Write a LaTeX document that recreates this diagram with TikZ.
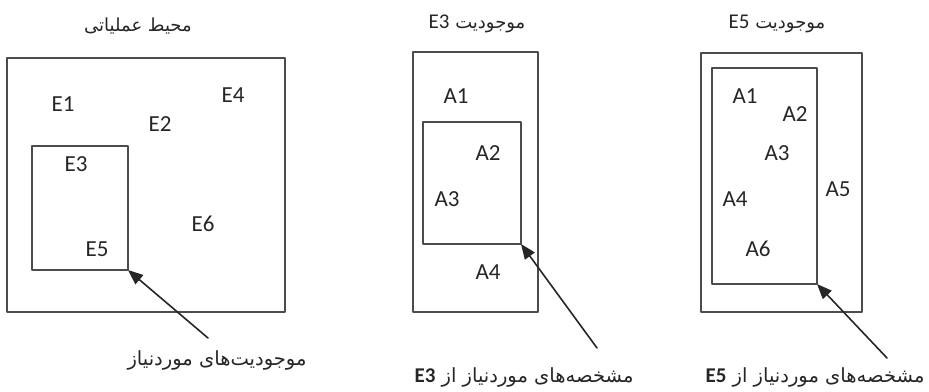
\documentclass[tikz,border=0pt]{standalone}
\usepackage{fontspec}
\setmainfont{Carlito}
\newfontfamily\arabicfont[Script=Arabic]{DejaVu Sans}
\TeXXeTstate=1
\usetikzlibrary{arrows.meta}

% Latin name inside a Persian line
\newcommand{\latinname}[1]{\beginL{\normalfont\fontsize{21}{24}\selectfont #1}\endL}

\tikzset{
  frame/.style={draw=black!70,line width=1.7pt,inner sep=0pt,outer sep=0pt},
  inframe/.style={draw=black!70,line width=1.4pt,inner sep=0pt,outer sep=0pt},
  item/.style={text=black!85,font=\fontsize{23}{26}\selectfont},
  fatext/.style={text=black!85,font=\arabicfont\fontsize{18}{21}\selectfont},
  falabel/.style={text=black!85,font=\arabicfont\fontsize{19.5}{23}\selectfont},
  pointer/.style={draw=black!85,line width=1.6pt,-{Triangle[length=15pt,width=12pt]}}
}

\begin{document}
\begin{tikzpicture}[line cap=round,line join=round,x=1pt,y=-1pt]
                \useasboundingbox (0,0) rectangle (929,391);
                % operating environment
                \node[fatext] (title1) at (138,26) {\beginR محیط عملیاتی\endR};
                \node[frame,minimum width=278pt,minimum height=254pt] (env) at (146,185) {};
                \node[inframe,minimum width=96pt,minimum height=124pt] (need1) at (80,208) {};
                \node[item] (e1) at (63,104) {E1};
                \node[item] (e2) at (160,124) {E2};
                \node[item] (e3) at (76,164) {E3};
                \node[item] (e4) at (233,95) {E4};
                \node[item] (e5) at (97,249) {E5};
                \node[item] (e6) at (203,224) {E6};
                \node[falabel] (lab1) at (217,360) {\beginR موجودیت‌های موردنیاز\endR};
                \coordinate (t1) at (208,338);
                \draw[pointer] (t1) -- (need1.south east);
                % entity E3
                \node[fatext] (title2) at (477,24) {\beginR موجودیت \latinname{E3}\endR};
                \node[frame,minimum width=125pt,minimum height=260pt] (ent3) at (475.5,182) {};
                \node[inframe,minimum width=98pt,minimum height=122pt] (need3) at (472,183) {};
                \node[item] (a31) at (456,96) {A1};
                \node[item] (a32) at (488,153) {A2};
                \node[item] (a33) at (447,199) {A3};
                \node[item] (a34) at (488,272) {A4};
                \node[falabel] (lab2) at (524,377) {\beginR مشخصه‌های موردنیاز از \latinname{\bfseries E3}\endR};
                \coordinate (t2) at (597,348);
                \draw[pointer] (t2) -- (need3.south east);
                % entity E5
                \node[fatext] (title3) at (777,24) {\beginR موجودیت \latinname{E5}\endR};
                \node[frame,minimum width=161pt,minimum height=259pt] (ent5) at (781.5,182.5) {};
                \node[inframe,minimum width=105pt,minimum height=216pt] (need5) at (764.5,176) {};
                \node[item] (a51) at (745,96) {A1};
                \node[item] (a52) at (795,114) {A2};
                \node[item] (a53) at (777,153) {A3};
                \node[item] (a54) at (735,199) {A4};
                \node[item] (a55) at (838,189) {A5};
                \node[item] (a56) at (758,249) {A6};
                \node[falabel] (lab3) at (815,377) {\beginR مشخصه‌های موردنیاز از \latinname{\bfseries E5}\endR};
                \coordinate (t3) at (887,358);
                \draw[pointer] (t3) -- (need5.south east);
\end{tikzpicture}
\end{document}
